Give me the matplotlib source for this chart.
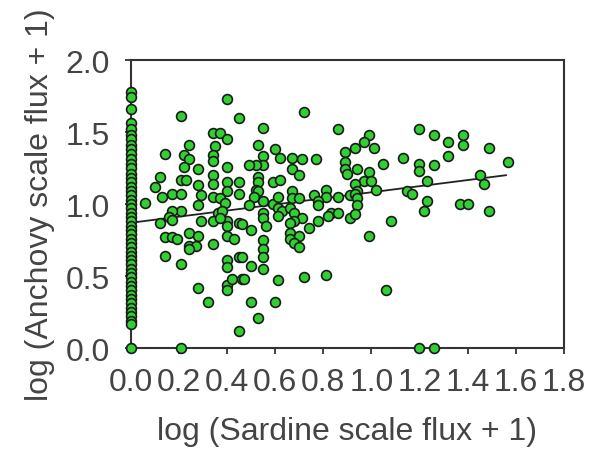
import numpy as np
import matplotlib
matplotlib.use("Agg")
import matplotlib.pyplot as plt

plt.rcParams["font.family"] = ["Liberation Sans", "DejaVu Sans"]

# samples with zero sardine flux (column on the y axis)
zero_anchovy = [1.78, 1.74, 1.66, 1.56, 1.52, 1.48, 1.45, 1.41, 1.38, 1.35, 1.31, 1.28,
                1.25, 1.21, 1.18, 1.15, 1.12, 1.09, 1.06, 1.03, 1.00, 0.97, 0.94, 0.91,
                0.88, 0.85, 0.82, 0.79, 0.76, 0.73, 0.70, 0.67, 0.64, 0.61, 0.58, 0.55,
                0.52, 0.49, 0.46, 0.43, 0.40, 0.37, 0.34, 0.31, 0.28, 0.25, 0.22, 0.19,
                0.17, 0.0]

sardine = [0.40, 0.21, 0.45, 0.34, 0.37, 0.40, 0.24, 0.35, 0.14, 0.22, 0.24, 0.34, 0.34, 0.40,
           0.28, 0.22, 0.34, 0.34, 0.21, 0.23, 0.12, 0.10, 0.28, 0.40, 0.40, 0.45, 0.45, 0.13,
           0.17, 0.21, 0.29, 0.34, 0.37, 0.39, 0.06, 0.28, 0.21, 0.17, 0.16, 0.36, 0.38, 0.29,
           0.40, 0.12,
           0.17, 0.34, 0.37, 0.40, 0.45,
           0.14, 0.17, 0.19, 0.24, 0.28, 0.24, 0.27, 0.24, 0.34, 0.40, 0.43, 0.14, 0.21, 0.40,
           0.40, 0.45, 0.28, 0.40, 0.40, 0.42, 0.46, 0.32, 0.45, 0.21,
           0.72, 0.55, 0.86, 0.53, 0.60, 0.62, 0.55, 0.55, 0.52, 0.49, 0.67, 0.71, 0.77, 0.67,
           0.70, 0.89, 0.89, 0.89, 0.90, 0.53, 0.53, 0.52, 0.53, 0.59, 0.62, 0.67, 0.67, 0.70,
           0.76, 0.81, 0.81, 0.86, 0.91, 0.51, 0.55, 0.59, 0.61, 0.49, 0.55, 0.61, 0.63, 0.55,
           0.66, 0.68, 0.71, 0.68, 0.78, 0.78, 0.83, 0.86, 0.91,
           0.56, 0.61, 0.66, 0.74, 0.78, 0.82, 0.50, 0.46,
           0.66, 0.66, 0.70, 0.68, 0.70, 0.55, 0.55, 0.55, 0.55, 0.50, 0.46, 0.47, 0.61, 0.72,
           0.81, 0.50, 0.60, 0.53,
           1.08, 0.99, 1.06, 1.20, 1.26,
           1.20, 1.26, 1.32, 1.38, 1.38, 0.99, 0.97, 0.93, 1.01, 1.13, 1.05, 1.20, 1.20, 1.26,
           1.32, 0.94, 0.99, 0.97, 1.00, 0.93, 0.94, 0.93, 1.02, 1.23, 1.15, 1.17, 0.94, 0.94,
           0.93, 1.23, 1.22, 1.37, 1.40,
           1.49, 1.57, 1.45, 1.47, 1.49]
anchovy = [1.73, 1.61, 1.60, 1.49, 1.49, 1.45, 1.41, 1.40, 1.35, 1.34, 1.31, 1.34, 1.30, 1.26,
           1.24, 1.26, 1.20, 1.14, 1.17, 1.17, 1.19, 1.12, 1.13, 1.15, 1.09, 1.15, 1.07, 1.05,
           1.07, 1.07, 1.06, 1.05, 1.04, 1.01, 1.01, 0.99, 0.95, 0.95, 0.91, 0.94, 0.95, 0.88,
           0.88, 0.87,
           0.89, 0.88, 0.90, 0.85, 0.87,
           0.77, 0.77, 0.76, 0.80, 0.78, 0.71, 0.71, 0.69, 0.72, 0.78, 0.76, 0.64, 0.58, 0.61,
           0.56, 0.63, 0.42, 0.44, 0.40, 0.48, 0.48, 0.32, 0.12, 0.0,
           1.64, 1.53, 1.52, 1.41, 1.38, 1.32, 1.33, 1.27, 1.27, 1.27, 1.32, 1.31, 1.31, 1.24,
           1.20, 1.36, 1.29, 1.24, 1.21, 1.19, 1.15, 1.10, 1.09, 1.15, 1.17, 1.09, 1.04, 1.04,
           1.06, 1.10, 1.05, 1.05, 1.06, 1.05, 1.02, 1.00, 1.05, 0.99, 0.94, 0.97, 0.95, 0.90,
           0.97, 0.94, 0.90, 0.88, 1.02, 0.99, 0.94, 0.94, 0.90,
           0.85, 0.92, 0.87, 0.83, 0.88, 0.92, 0.82, 0.86,
           0.80, 0.76, 0.78, 0.73, 0.70, 0.75, 0.69, 0.63, 0.55, 0.57, 0.63, 0.48, 0.47, 0.49,
           0.51, 0.32, 0.32, 0.21,
           0.88, 0.78, 0.40, 0.0, 0.0,
           1.52, 1.48, 1.43, 1.48, 1.41, 1.48, 1.43, 1.39, 1.39, 1.32, 1.28, 1.28, 1.23, 1.27,
           1.33, 1.24, 1.22, 1.16, 1.16, 1.14, 1.09, 1.07, 1.10, 1.16, 1.09, 1.07, 1.04, 0.99,
           0.93, 1.02, 0.95, 1.00, 1.00,
           1.39, 1.29, 1.20, 1.14, 0.95]

# regression line end points
fit_x = [0.0, 1.56]
fit_y = [0.87, 1.20]

fig = plt.figure(figsize=(5.91, 4.56), dpi=100)
ax = fig.add_axes([0.2217, 0.2346, 0.7320, 0.6316])

ax.plot(fit_x, fit_y, color="#222222", lw=1.3, zorder=2)
ax.scatter([0.0] * len(zero_anchovy), zero_anchovy, s=50, c="#30d030",
           edgecolors="#1a1a1a", linewidths=1.2, zorder=3, clip_on=False)
ax.scatter(sardine, anchovy, s=50, c="#30d030", edgecolors="#1a1a1a",
           linewidths=1.2, zorder=3, clip_on=False)

ax.set_xlim(0, 1.8)
ax.set_ylim(0, 2.0)
ax.set_xticks(np.arange(0, 1.81, 0.2))
ax.set_yticks(np.arange(0, 2.01, 0.5))
ax.set_xticklabels([f"{v:.1f}" for v in np.arange(0, 1.81, 0.2)])
ax.set_yticklabels([f"{v:.1f}" for v in np.arange(0, 2.01, 0.5)])
ax.tick_params(direction="out", length=4, width=1.3, color="#333333",
               labelsize=23, labelcolor="#444444")
ax.tick_params(axis="x", pad=10)
ax.tick_params(axis="y", pad=11)
for s in ax.spines.values():
    s.set_color("#333333")
    s.set_linewidth(1.5)

ax.set_xlabel("log (Sardine scale flux + 1)", fontsize=23, color="#444444", labelpad=13)
ax.set_ylabel("log (Anchovy scale flux + 1)", fontsize=23, color="#444444", labelpad=8)

fig.savefig("out.png", dpi=100)
